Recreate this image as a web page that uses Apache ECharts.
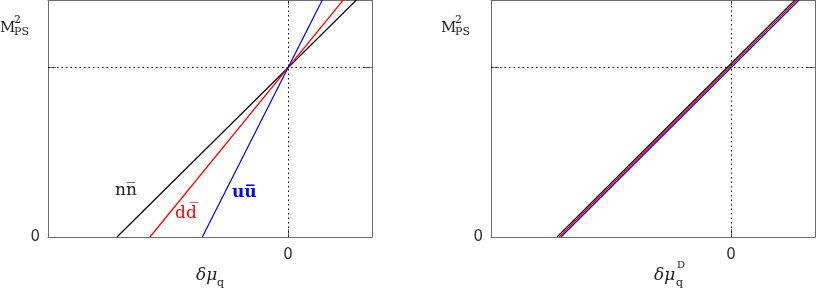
<!DOCTYPE html>
<html>
<head>
<meta charset="utf-8">
<script src="https://cdn.jsdelivr.net/npm/echarts@6/dist/echarts.min.js"></script>
<style>
  html, body { margin: 0; padding: 0; background: #fff; }
  #main { width: 817px; height: 288px; }
</style>
</head>
<body>
<div id="main"></div>
<script>
// axis ranges (arbitrary units, only the zero and reference level matter)
var xRange = [-2, 0.7];
var yRange = [0, 1.4];
var xTicks = [0];        // tick + label "0" on the x axis
var yTicks = [1];        // unlabelled tick at the reference level
var yLabels = [0];       // label "0" on the y axis

// left panel: three lines crossing at (0, 1)
var leftNN = [[-1.425, 0], [0.57, 1.4]];
var leftDD = [[-1.15, 0], [0.46, 1.4]];
var leftUU = [[-0.714, 0], [0.286, 1.4]];

// right panel: three nearly identical parallel lines
var rightNN = [[-1.45, 0], [0.533, 1.4]];
var rightDD = [[-1.433, 0], [0.55, 1.4]];
var rightUU = [[-1.417, 0], [0.567, 1.4]];

var frameColor = '#6e6e6e';
var serif = '"DejaVu Serif", "Liberation Serif", serif';

function xAxes(gi) {
    return [
        {
            gridIndex: gi, type: 'value', position: 'bottom',
            min: xRange[0], max: xRange[1],
            axisLine: { show: true, onZero: false, lineStyle: { color: frameColor } },
            axisTick: { show: true, inside: true, length: 8, customValues: xTicks, lineStyle: { color: frameColor } },
            axisLabel: { show: true, customValues: xTicks, margin: 11, color: '#333', fontSize: 15, fontFamily: 'DejaVu Sans' },
            splitLine: { show: false }
        },
        {
            gridIndex: gi, type: 'value', position: 'top',
            min: xRange[0], max: xRange[1],
            axisLine: { show: true, onZero: false, lineStyle: { color: frameColor } },
            axisTick: { show: true, inside: true, length: 5, customValues: xTicks, lineStyle: { color: frameColor } },
            axisLabel: { show: false },
            splitLine: { show: false }
        }
    ];
}

function yAxes(gi) {
    return [
        {
            gridIndex: gi, type: 'value', position: 'left',
            min: yRange[0], max: yRange[1],
            axisLine: { show: true, onZero: false, lineStyle: { color: frameColor } },
            axisTick: { show: true, inside: true, length: 8, customValues: yTicks, lineStyle: { color: frameColor } },
            axisLabel: { show: true, customValues: yLabels, margin: 8, color: '#333', fontSize: 15, fontFamily: 'DejaVu Sans' },
            splitLine: { show: false }
        },
        {
            gridIndex: gi, type: 'value', position: 'right',
            min: yRange[0], max: yRange[1],
            axisLine: { show: true, onZero: false, lineStyle: { color: frameColor } },
            axisTick: { show: true, inside: true, length: 8, customValues: yTicks, lineStyle: { color: frameColor } },
            axisLabel: { show: false },
            splitLine: { show: false }
        }
    ];
}

function lineSeries(xi, yi, data, color) {
    return {
        type: 'line', xAxisIndex: xi, yAxisIndex: yi,
        data: data, showSymbol: false, symbol: 'none', silent: true,
        lineStyle: { color: color, width: 1.2 }
    };
}

function refLines(xi, yi) {
    // dotted lines through x = 0 and y = 1
    return {
        type: 'line', xAxisIndex: xi, yAxisIndex: yi, data: [], silent: true,
        markLine: {
            silent: true, symbol: 'none', animation: false,
            label: { show: false },
            lineStyle: { color: '#000', width: 1, type: [1.5, 3] },
            data: [{ xAxis: xTicks[0] }, { yAxis: yTicks[0] }]
        }
    };
}

function txt(x, y, text, size, color, extra) {
    var s = {
        text: text, fill: color || '#222',
        font: (extra && extra.font) || (size + 'px ' + serif),
        textAlign: (extra && extra.align) || 'left',
        textVerticalAlign: 'middle'
    };
    return { type: 'text', x: x, y: y, silent: true, style: s };
}

var myChart = echarts.init(document.getElementById('main'));

var option = {
    animation: false,
    grid: [
        { left: 48, top: 0, width: 324, height: 237 },
        { left: 491, top: 0, width: 324, height: 237 }
    ],
    xAxis: xAxes(0).concat(xAxes(1)),
    yAxis: yAxes(0).concat(yAxes(1)),
    series: [
        refLines(0, 0),
        lineSeries(0, 0, leftNN, '#000000'),
        lineSeries(0, 0, leftDD, '#ff0000'),
        lineSeries(0, 0, leftUU, '#0000ff'),
        refLines(2, 2),
        lineSeries(2, 2, rightNN, '#000000'),
        lineSeries(2, 2, rightDD, '#ff0000'),
        lineSeries(2, 2, rightUU, '#0000ff')
    ],
    graphic: [
        // left y title M^2_PS
        txt(0, 28, 'M', 15),
        txt(14, 20, '2', 11),
        txt(14, 32, 'PS', 11),
        // left x title
        txt(196, 276, 'δμ', 17, '#222', { font: 'italic 17px ' + serif }),
        txt(217, 283, 'q', 11),
        // line labels
        txt(115, 191, 'nn\u0305', 17, '#222'),
        txt(175, 214, 'dd\u0305', 17, '#ff0000'),
        txt(232, 193, 'uu\u0305', 17, '#0000ff', { font: 'bold 17px ' + serif }),
        // right y title
        txt(441, 28, 'M', 15),
        txt(455, 20, '2', 11),
        txt(455, 32, 'PS', 11),
        // right x title
        txt(654, 276, 'δμ', 17, '#222', { font: 'italic 17px ' + serif }),
        txt(676, 283, 'q', 11),
        txt(677, 265, 'D', 10)
    ]
};

myChart.setOption(option);
</script>
</body>
</html>
